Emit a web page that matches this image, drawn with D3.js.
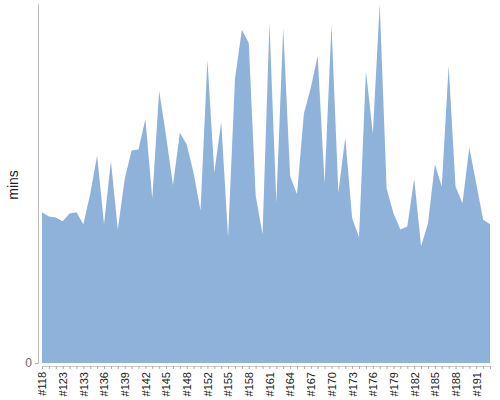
<!DOCTYPE html>
<html>
<head>
<meta charset="utf-8">
<script src="https://cdn.jsdelivr.net/npm/d3@7"></script>
<style>
  body { margin: 0; background: #fff; }
  text { font-family: "Liberation Sans", Arial, sans-serif; }
</style>
</head>
<body>
<div id="chart"></div>
<script>
var episodes = [118, 119, 121, 123, 125, 131, 133, 134, 135, 136, 137, 138, 139, 140, 141, 142,
    143, 144, 145, 146, 147, 148, 150, 151, 152, 153, 154, 155, 156, 157, 158, 159, 160, 161,
    162, 163, 164, 165, 166, 167, 168, 169, 170, 171, 172, 173, 174, 175, 176, 177, 178, 179,
    180, 181, 182, 183, 184, 185, 186, 187, 188, 189, 190, 191, 192, 193];

var minutes = [25.2, 24.5, 24.3, 23.7, 25.0, 25.2, 23.2, 28.3, 34.7, 23.2, 33.7, 22.3, 30.8,
    35.5, 35.7, 40.8, 27.5, 45.5, 38.0, 29.7, 38.5, 36.5, 31.7, 25.5, 50.7, 31.8, 40.3, 21.0,
    47.5, 55.7, 53.5, 28.0, 21.5, 56.8, 26.8, 56.0, 31.2, 28.2, 41.7, 46.0, 51.3, 30.0, 56.5,
    28.5, 37.7, 24.2, 21.0, 48.8, 38.3, 60.0, 29.2, 25.0, 22.3, 22.8, 30.8, 19.5, 23.3, 33.2,
    29.5, 49.7, 29.5, 26.7, 36.0, 30.0, 24.0, 23.2];

var labels = episodes.map(d => "#" + d);

var totalWidth = 500,
    totalHeight = 400,
    plotLeft = 42, plotRight = 490,
    plotTop = 4, plotBottom = 363;

var svg = d3.select("#chart")
    .append("svg")
    .attr("width", totalWidth)
    .attr("height", totalHeight);

var x = d3.scalePoint()
    .domain(labels)
    .range([plotLeft, plotRight]);

var y = d3.scaleLinear()
    .domain([0, d3.max(minutes)])
    .range([plotBottom, plotTop]);

var area = d3.area()
    .x((d, i) => x(labels[i]))
    .y0(y(0))
    .y1(d => y(d));

svg.append("path")
    .datum(minutes)
    .attr("d", area)
    .style("fill", "#8fb2db");

// x axis: tick on every episode, label on every third
var xAxis = svg.append("g")
    .attr("transform", "translate(0,366)")
    .call(d3.axisBottom(x).tickSize(3).tickSizeOuter(0)
        .tickFormat((d, i) => i % 3 === 0 ? d : ""));

xAxis.select(".domain").attr("stroke", "#ccc");
xAxis.selectAll(".tick line").attr("stroke", "#aaa");
xAxis.selectAll(".tick text")
    .attr("transform", "rotate(-90)")
    .attr("text-anchor", "end")
    .attr("x", -6)
    .attr("y", 0)
    .attr("dy", "0.35em")
    .style("font-size", "11px")
    .style("fill", "#222");

// y axis with only the zero tick
var yAxis = svg.append("g")
    .attr("transform", "translate(38,0)")
    .call(d3.axisLeft(y).tickValues([0]).tickSize(3).tickSizeOuter(0));

yAxis.select(".domain").attr("stroke", "#bbb");
yAxis.selectAll(".tick line").attr("stroke", "#aaa");
yAxis.selectAll(".tick text")
    .style("font-size", "12px")
    .style("fill", "#666");

svg.append("text")
    .attr("transform", "translate(18,185) rotate(-90)")
    .attr("text-anchor", "middle")
    .style("font-size", "14px")
    .style("fill", "#222")
    .text("mins");
</script>
</body>
</html>
